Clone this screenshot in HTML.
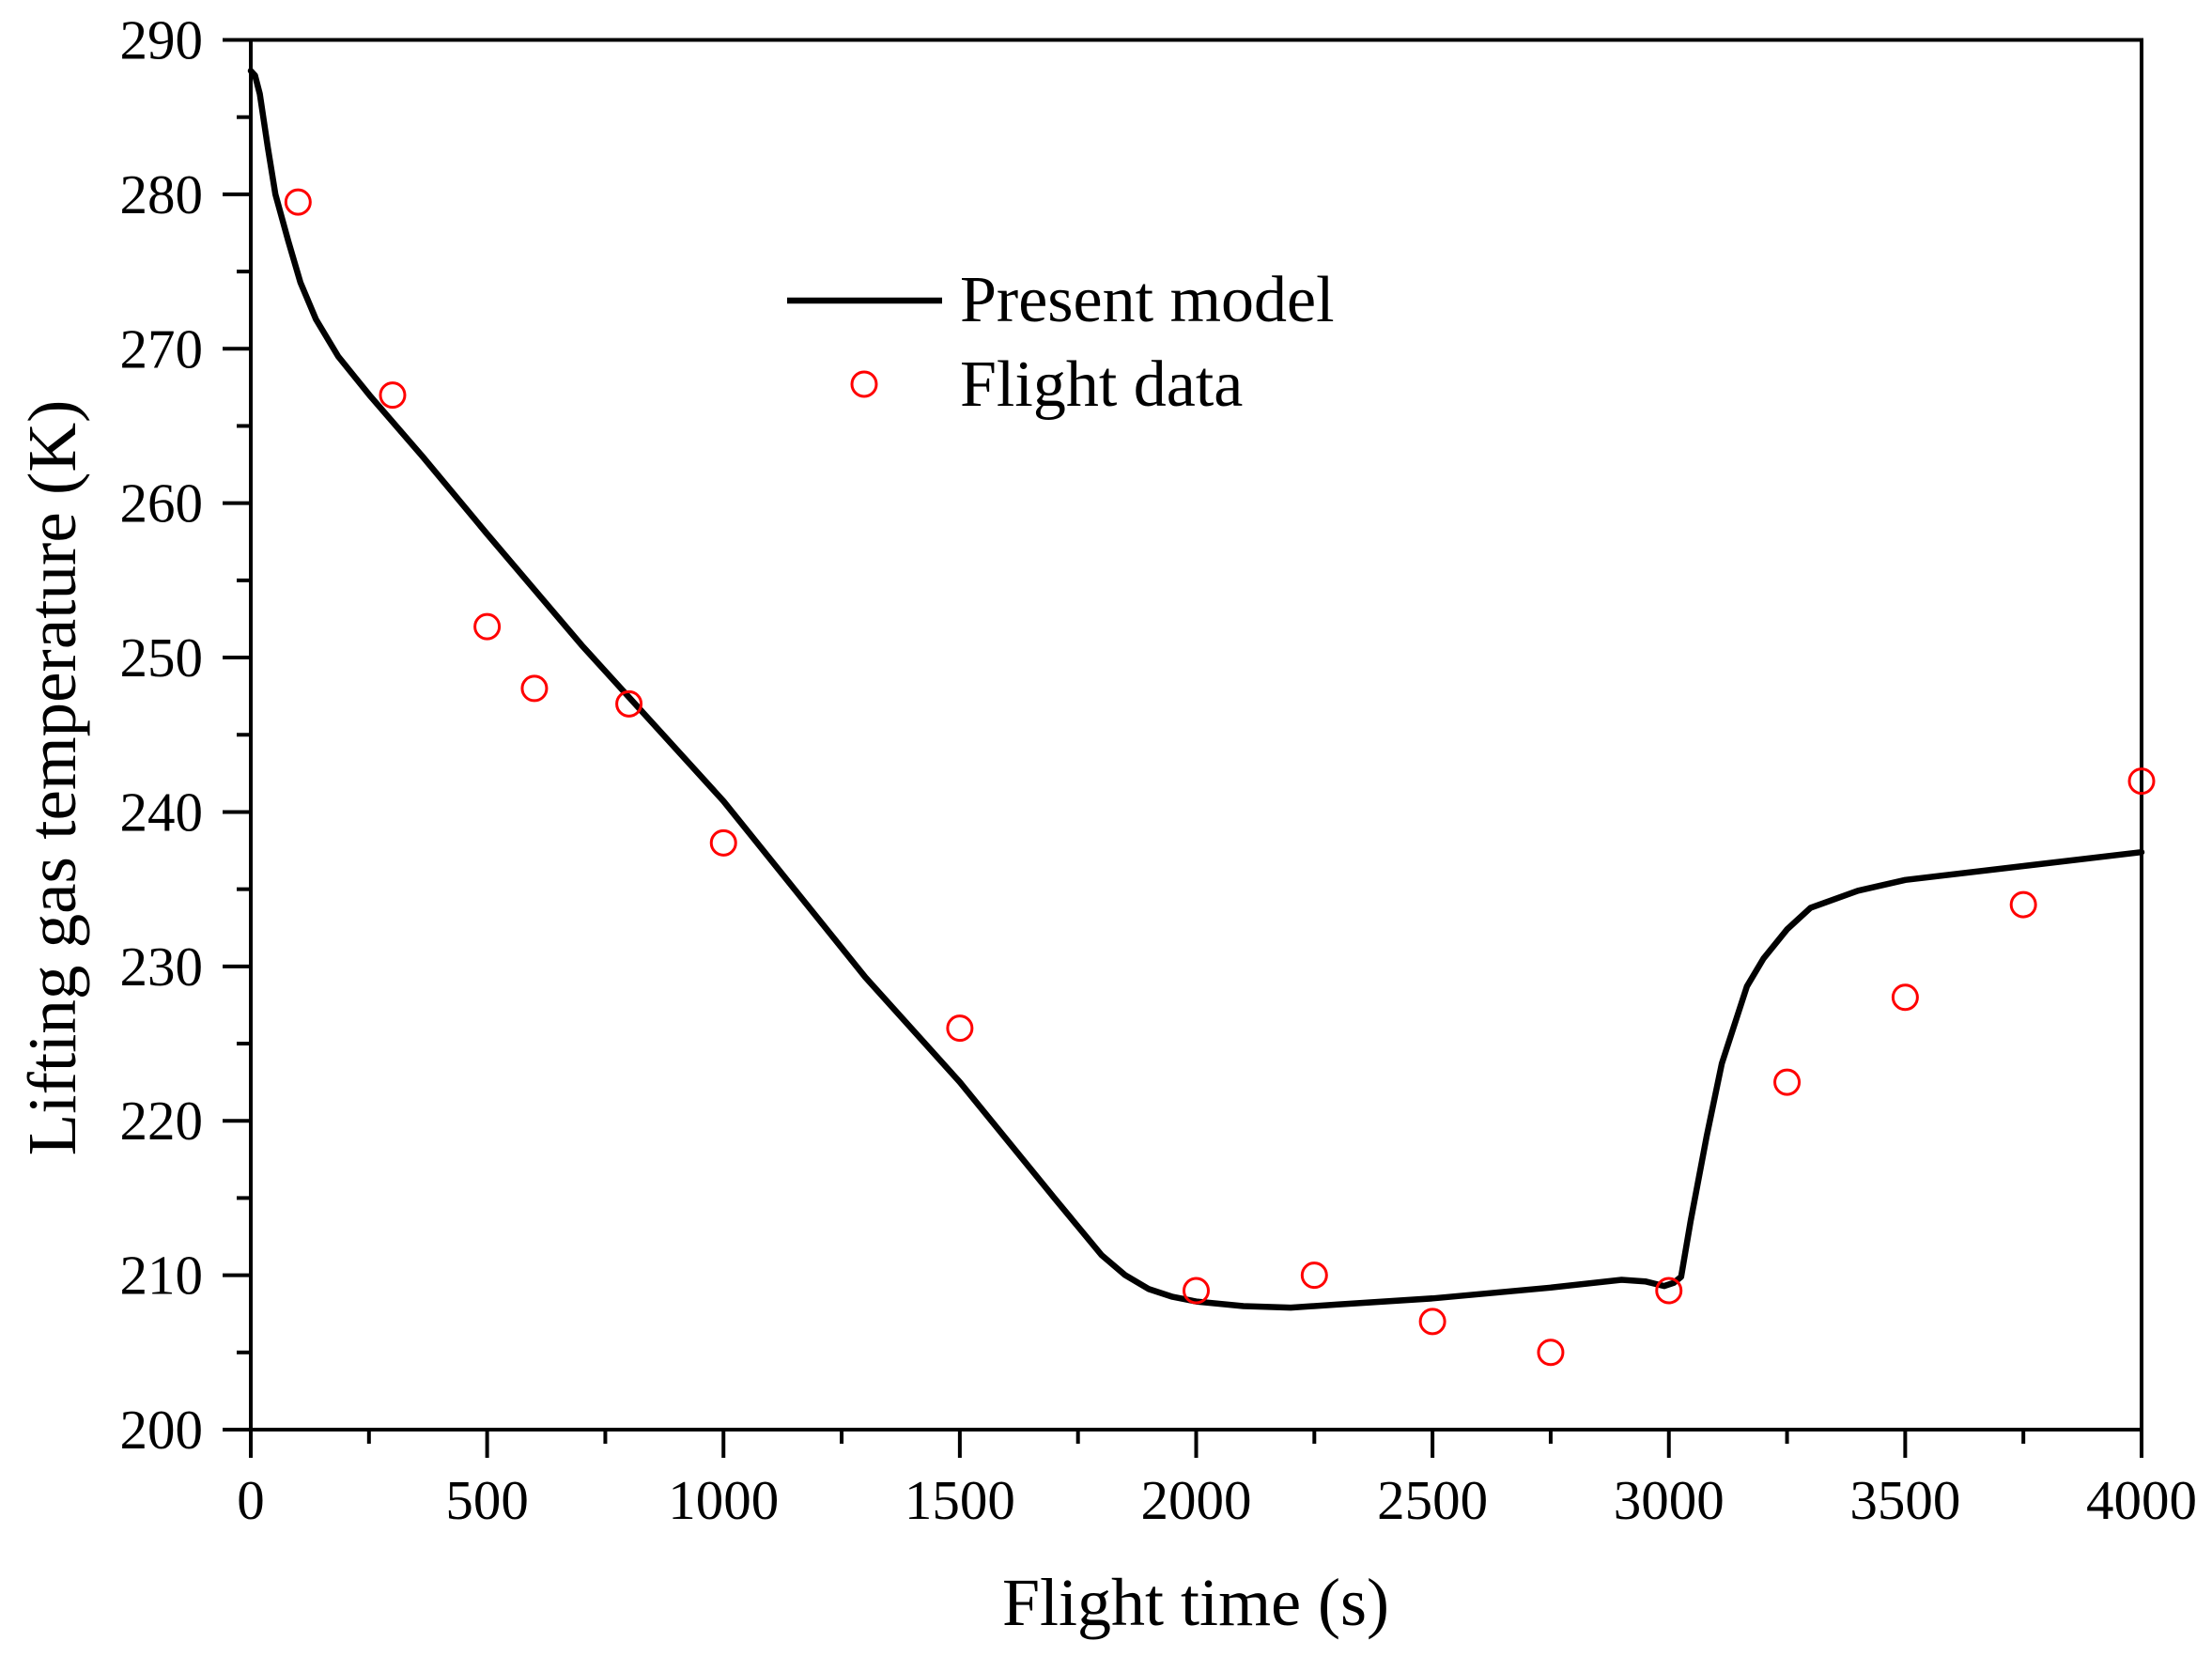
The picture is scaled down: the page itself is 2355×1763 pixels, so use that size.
<!DOCTYPE html>
<html><head><meta charset="utf-8"><style>
html,body{margin:0;padding:0;background:#fff;}
svg{display:block;font-family:"Liberation Serif",serif;}
</style></head><body>
<svg id="chart" width="2355" height="1763" viewBox="0 0 2355 1763" xmlns="http://www.w3.org/2000/svg">
<g id="plot"></g>
</svg>
<script>
const xTicks=[0,500,1000,1500,2000,2500,3000,3500,4000];
const yTicks=[200,210,220,230,240,250,260,270,280,290];
const modelT=[0,9,19,36,52,79,105,138,185,251,364,500,700,1000,1300,1500,1700,1800,1850,1900,1950,2000,2100,2200,2300,2500,2750,2900,2950,2990,3010,3026,3046,3080,3112,3165,3200,3250,3300,3400,3500,3750,4000];
const modelK=[288,287.7,286.5,283.05,280,277,274.3,271.9,269.5,267,263,258,250.8,240.7,229.3,222.5,215,211.3,210,209.1,208.6,208.3,208,207.9,208.1,208.5,209.2,209.7,209.6,209.3,209.5,209.9,213.5,219,223.7,228.7,230.5,232.4,233.8,234.9,235.6,236.5,237.4];
const flightT=[100,300,500,600,800,1000,1500,2000,2250,2500,2750,3000,3250,3500,3750,4000];
const flightK=[279.5,267,252,248,247,238,226,209,210,207,205,209,222.5,228,234,242];

const L=267,R=2280,T=42.5,B=1522;
const sx=v=>L+(v-0)/4000*(R-L);
const sy=v=>B-(v-200)/90*(B-T);
const NS="http://www.w3.org/2000/svg";
const g=document.getElementById('plot');
function mk(tag,attrs,parent){const e=document.createElementNS(NS,tag);for(const k in attrs)e.setAttribute(k,attrs[k]);(parent||g).appendChild(e);return e;}

const frame=mk('rect',{x:L,y:T,width:R-L,height:B-T,fill:'none',stroke:'#000','stroke-width':4});



xTicks.forEach((v,i)=>{
  const x=sx(v);
  const t=mk('line',{x1:x,y1:B,x2:x,y2:B+30,stroke:'#000','stroke-width':4});
  
  
  if(i<xTicks.length-1){const xm=sx(v+250);
    const m=mk('line',{x1:xm,y1:B,x2:xm,y2:B+15,stroke:'#000','stroke-width':4});
    
    }
  const lb=mk('text',{x:x,y:1617,'font-size':59,'text-anchor':'middle'});
  lb.textContent=v;
  
  
});
yTicks.forEach((v,i)=>{
  const y=sy(v);
  const t=mk('line',{x1:L-30,y1:y,x2:L,y2:y,stroke:'#000','stroke-width':4});
  
  
  if(i<yTicks.length-1){const ym=sy(v+5);
    const m=mk('line',{x1:L-15,y1:ym,x2:L,y2:ym,stroke:'#000','stroke-width':4});
    
    }
  const lb=mk('text',{x:216,y:y+20,'font-size':59,'text-anchor':'end'});
  lb.textContent=v;
  
  
});
const pts=modelT.map((t,i)=>sx(t).toFixed(1)+','+sy(modelK[i]).toFixed(1)).join(' ');
const line=mk('polyline',{points:pts,fill:'none',stroke:'#000','stroke-width':6.5,'stroke-linejoin':'round','stroke-linecap':'round'});


flightT.forEach((t,i)=>{
  const c=mk('circle',{cx:sx(t),cy:sy(flightK[i]),r:13,fill:'none',stroke:'#ff0000','stroke-width':3});
  
  
});
const ll=mk('line',{x1:838,y1:320,x2:1003,y2:320,stroke:'#000','stroke-width':6.5});


const lt1=mk('text',{x:1022,y:342,'font-size':70});lt1.textContent='Present model';


const lc=mk('circle',{cx:920,cy:409,r:13,fill:'none',stroke:'#ff0000','stroke-width':3});


const lt2=mk('text',{x:1022,y:432,'font-size':70});lt2.textContent='Flight data';


const xt=mk('text',{x:1273,y:1730,'font-size':72,'text-anchor':'middle'});xt.textContent='Flight time (s)';


const yt=mk('text',{x:0,y:0,'font-size':73,'text-anchor':'middle',transform:'translate(80,828) rotate(-90)'});yt.textContent='Lifting gas temperature (K)';


</script>
</body></html>
